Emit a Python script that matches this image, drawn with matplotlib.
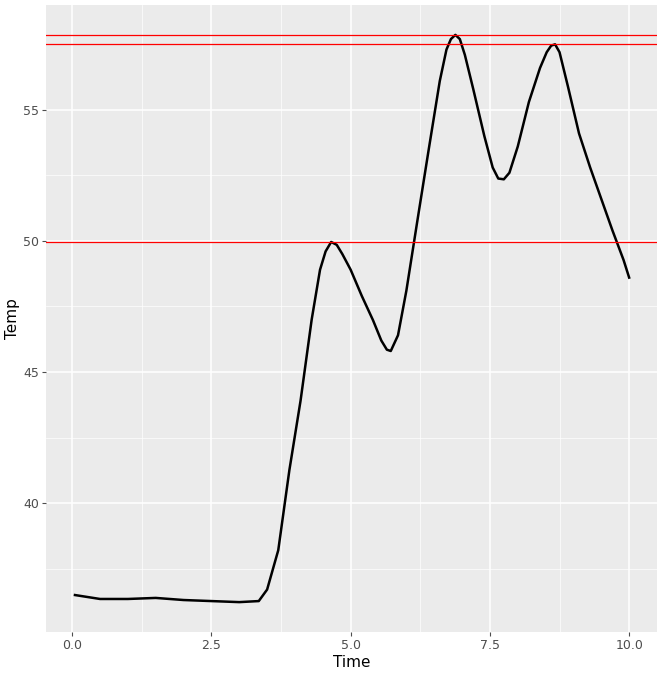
import matplotlib
matplotlib.use("Agg")
import matplotlib.pyplot as plt

# curve
time = [0.05, 0.5, 1.0, 1.5, 2.0, 2.5, 3.0, 3.35, 3.5, 3.7, 3.9, 4.1, 4.3, 4.45,
        4.55, 4.65, 4.75, 4.85, 5.0, 5.2, 5.4, 5.55, 5.65, 5.72, 5.85, 6.0, 6.2,
        6.4, 6.6, 6.72, 6.8, 6.88, 6.96, 7.05, 7.2, 7.4, 7.55, 7.65, 7.75, 7.85,
        8.0, 8.2, 8.4, 8.52, 8.6, 8.67, 8.75, 8.9, 9.1, 9.3, 9.5, 9.7, 9.9, 10.0]
temp = [36.49, 36.34, 36.34, 36.38, 36.30, 36.26, 36.22, 36.26, 36.7, 38.2,
        41.26, 43.9, 47.0, 48.9, 49.6, 49.96, 49.85, 49.5, 48.9, 47.9, 46.98,
        46.2, 45.85, 45.8, 46.4, 48.1, 50.8, 53.47, 56.1, 57.3, 57.7, 57.86,
        57.7, 57.1, 55.8, 54.0, 52.8, 52.38, 52.35, 52.6, 53.6, 55.3, 56.6, 57.2,
        57.45, 57.5, 57.2, 55.9, 54.1, 52.8, 51.6, 50.4, 49.27, 48.6]
hlines = [57.86, 57.52, 49.96]

x_ticks = [0.0, 2.5, 5.0, 7.5, 10.0]
y_ticks = [40, 45, 50, 55]

fig = plt.figure(figsize=(6.65, 6.76), dpi=100)
ax = fig.add_axes([46 / 665, 44 / 676, 611 / 665, 627 / 676])
ax.set_facecolor("#EBEBEB")
for s in ax.spines.values():
    s.set_visible(False)

ax.set_xlim(-0.47, 10.5)
ax.set_ylim(35.08, 59.0)
ax.set_xticks(x_ticks)
ax.set_xticklabels([f"{v:.1f}" for v in x_ticks])
ax.set_yticks(y_ticks)
ax.set_xticks([1.25, 3.75, 6.25, 8.75], minor=True)
ax.set_yticks([37.5, 42.5, 47.5, 52.5, 57.5], minor=True)
ax.grid(which="major", color="white", lw=1.1)
ax.grid(which="minor", color="white", lw=0.5)
ax.set_axisbelow(True)
ax.tick_params(which="major", colors="#4D4D4D", labelsize=9, length=3, pad=2)
ax.tick_params(which="minor", length=0)
for lab in ax.get_xticklabels() + ax.get_yticklabels():
    lab.set_color("#4D4D4D")

ax.plot(time, temp, color="black", lw=1.8)
for h in hlines:
    ax.axhline(h, color="red", lw=0.9)

ax.set_xlabel("Time", fontsize=11, labelpad=2)
ax.set_ylabel("Temp", fontsize=11, labelpad=2)

fig.savefig("out.png", dpi=100)
